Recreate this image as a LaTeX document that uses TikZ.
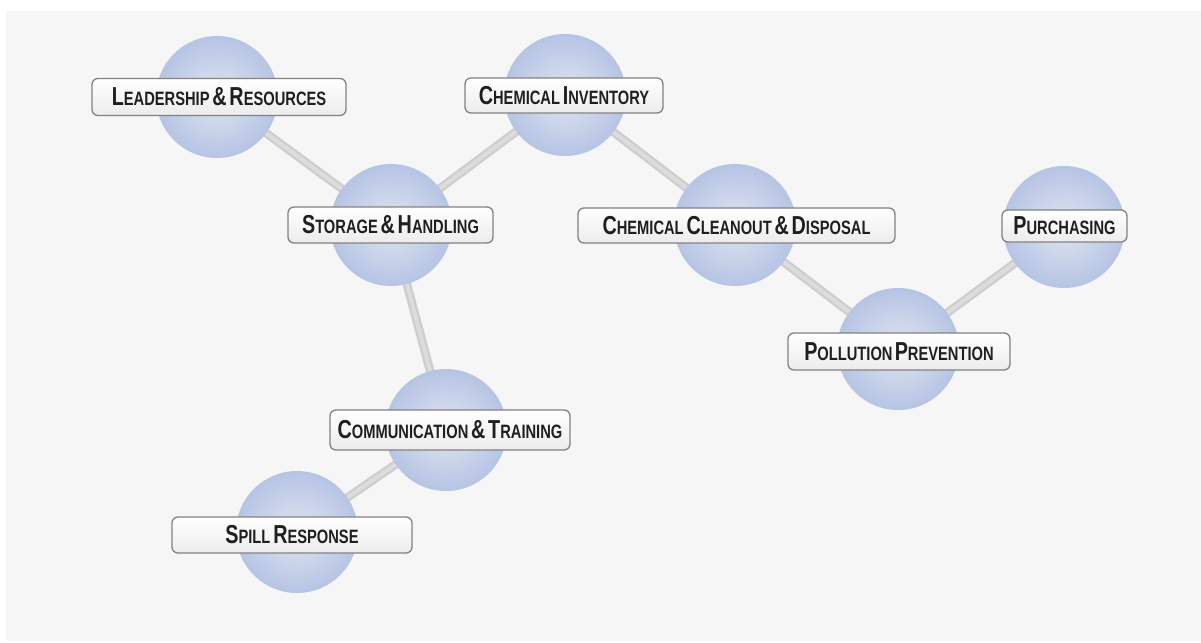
\documentclass[tikz,border=0pt]{standalone}
\usepackage{fontspec}
\newfontfamily\labfont[FakeStretch=0.76]{Liberation Sans}
\usetikzlibrary{backgrounds}
\definecolor{ballin}{RGB}{224,228,240}
\definecolor{ballout}{RGB}{182,196,228}
\definecolor{barcol}{RGB}{206,206,206}
\definecolor{barhi}{RGB}{220,220,220}
\definecolor{boxline}{RGB}{130,130,130}
\definecolor{boxbot}{RGB}{236,236,236}
\definecolor{panel}{RGB}{246,246,246}
\newcommand\SC[2]{{\fontsize{19.5}{19.5}\selectfont #1}{\fontsize{14.5}{14.5}\selectfont #2}}
\tikzset{
  ball/.style={circle, minimum size=91.5pt, inner sep=0pt, shading=radial, inner color=ballin, outer color=ballout},
  tagbox/.style={rounded corners=4.5pt, draw=boxline, line width=1pt, top color=white, bottom color=boxbot,
    minimum height=27pt, inner sep=0pt, font=\labfont\bfseries, text=black!88},
  bar/.style={line width=6.5pt, draw=barcol},
  barlight/.style={line width=3pt, draw=barhi}
}
\begin{document}
\begin{tikzpicture}[x=0.75pt, y=-0.75pt]
\useasboundingbox (0,0) rectangle (1201,642);
\begin{scope}[on background layer]
  \fill[white] (0,0) rectangle (1201,642);
  \fill[panel] (6,11) rectangle (1201,641);
\end{scope}
% balls
\node[ball] (lr) at (217,97) {};
\node[ball] (ci) at (565,95) {};
\node[ball] (sh) at (391,225) {};
\node[ball] (cc) at (735,225) {};
\node[ball] (pu) at (1064,227) {};
\node[ball] (pp) at (898,349) {};
\node[ball] (ct) at (446,430) {};
\node[ball] (sr) at (297,532) {};
% connectors
\begin{scope}[on background layer]
  \foreach \a/\b in {lr/sh, sh/ci, ci/cc, cc/pp, pp/pu, sh/ct, ct/sr}{
    \draw[bar] (\a.center) -- (\b.center);
    \draw[barlight] (\a.center) -- (\b.center);
  }
\end{scope}
% labels
\node[tagbox, minimum width=190.5pt, minimum height=27.75pt] (tlr) at (219,97) {\SC{L}{EADERSHIP} \SC{\&}{} \SC{R}{ESOURCES}};
\node[tagbox, minimum width=148.5pt, minimum height=26.25pt] (tci) at (564,95.5) {\SC{C}{HEMICAL} \SC{I}{NVENTORY}};
\node[tagbox, minimum width=153.75pt] (tsh) at (390.5,225) {\SC{S}{TORAGE} \SC{\&}{} \SC{H}{ANDLING}};
\node[tagbox, minimum width=237.75pt, minimum height=26.25pt] (tcc) at (736.5,225.5) {\SC{C}{HEMICAL} \SC{C}{LEANOUT} \SC{\&}{} \SC{D}{ISPOSAL}};
\node[tagbox, minimum width=93.75pt, minimum height=24pt] (tpu) at (1064.5,226) {\SC{P}{URCHASING}};
\node[tagbox, minimum width=166.5pt, minimum height=27.75pt] (tpp) at (899,351.5) {\SC{P}{OLLUTION}\,\SC{P}{REVENTION}};
\node[tagbox, minimum width=180pt, minimum height=30pt] (tct) at (450,430) {\SC{C}{OMMUNICATION} \SC{\&}{} \SC{T}{RAINING}};
\node[tagbox, minimum width=180pt] (tsr) at (292,535) {\SC{S}{PILL} \SC{R}{ESPONSE}};
\end{tikzpicture}
\end{document}
